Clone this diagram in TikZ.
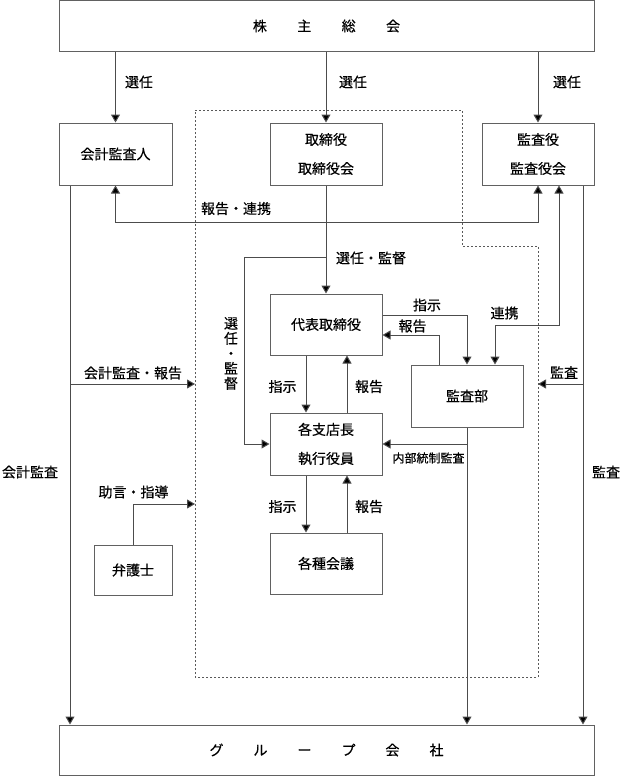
\documentclass[tikz,border=0pt]{standalone}
\usepackage{fontspec}
\setmainfont[FakeBold=0.4]{Noto Sans CJK JP}
\usetikzlibrary{arrows.meta}
\begin{document}
\begin{tikzpicture}[x=1pt,y=-1pt,
  box/.style={draw=black!62, line width=1pt, inner sep=0pt, align=center,
    font=\fontsize{14}{29}\selectfont},
  lbl/.style={inner sep=0pt, font=\fontsize{14}{15}\selectfont},
  small/.style={inner sep=0pt, font=\fontsize{12}{14}\selectfont},
  ln/.style={draw=black!70, line width=1pt},
  arr/.style={ln, -{Triangle[width=9pt,length=8pt,fill=black]}},
  both/.style={ln, {Triangle[width=9pt,length=8pt,fill=black]}-{Triangle[width=9pt,length=8pt,fill=black]}},
  dashbox/.style={draw=black!65, line width=1pt, dash pattern=on 2pt off 2pt}
]
\useasboundingbox (0,0) rectangle (620,776);

% boxes
\node[box, minimum width=535pt, minimum height=51pt] (top) at (326.5,26)
  {株\hspace{30.4pt}主\hspace{30.4pt}総\hspace{30.4pt}会};
\node[box, minimum width=113pt, minimum height=62pt] (kaikei) at (115.5,154) {会計監査人};
\node[box, minimum width=112pt, minimum height=62pt] (tori) at (326,154) {取締役\\取締役会};
\node[box, minimum width=112pt, minimum height=62pt] (kansayaku) at (538,154) {監査役\\監査役会};
\node[box, minimum width=112pt, minimum height=61pt] (daihyo) at (326,324.5) {代表取締役};
\node[box, minimum width=112pt, minimum height=62pt] (shiten) at (326,444) {各支店長\\執行役員};
\node[box, minimum width=112pt, minimum height=61pt] (kaigi) at (326,563.5) {各種会議};
\node[box, minimum width=112pt, minimum height=62pt] (kansabu) at (467,396) {監査部};
\node[box, minimum width=78pt, minimum height=50pt] (bengoshi) at (133,570) {弁護士};
\node[box, minimum width=535pt, minimum height=50pt] (group) at (326.5,750)
  {グ\hspace{30pt}ル\hspace{30pt}ー\hspace{30pt}プ\hspace{30pt}会\hspace{30pt}社};

% dashed area
\draw[dashbox] (195,110) -- (462,110) -- (462,246) -- (538,246) -- (538,677) -- (195,677) -- cycle;

% coordinates
\coordinate (rep) at (0,222.5);
\coordinate (renkei) at (495,325);
\coordinate (dashR) at (538,384);
\coordinate (dashL) at (195,384);
\coordinate (dashL2) at (195,504);
\coordinate (skTurn) at (244,444);
\coordinate (skY) at (0,257);

% selection arrows
\draw[arr] (kaikei.north |- top.south) -- (kaikei.north);
\draw[arr] (tori.north |- top.south) -- (tori.north);
\draw[arr] (kansayaku.north |- top.south) -- (kansayaku.north);
\node[lbl] (l1) at (139,82) {選任};
\node[lbl] (l2) at (353,82) {選任};
\node[lbl] (l3) at (567,82) {選任};

% report / cooperation
\draw[both] (kaikei.south) -- (kaikei.south |- rep) -| (kansayaku.south);
\node[lbl] (l4) at (236,208.5) {報告・連携};

% cooperation with audit dept
\draw[both] ([xshift=21pt]kansayaku.south) |- (renkei) -- (renkei |- kansabu.north);
\node[lbl] (l5) at (504.5,313) {連携};

% right audit line
\draw[arr] ([xshift=45pt]kansayaku.south) -- ([xshift=45pt]kansayaku.south |- group.north);
\draw[arr] ([xshift=45pt]kansayaku.south |- dashR) -- (dashR);
\node[lbl] (l6) at (564,372.5) {監査};
\node[lbl] (l7) at (606,472) {監査};

% left accounting audit line
\draw[arr] ([xshift=-45.5pt]kaikei.south) -- ([xshift=-45.5pt]kaikei.south |- group.north);
\draw[arr] ([xshift=-45.5pt]kaikei.south |- dashL) -- (dashL);
\node[lbl] (l8) at (133,373) {会計監査・報告};
\node[lbl] (l9) at (30,472) {会計監査};

% lawyer
\draw[arr] (bengoshi.north) |- (dashL2);
\node[lbl] (l10) at (133.5,492) {助言・指導};

% board -> representative
\draw[arr] (tori.south) -- (daihyo.north);
\draw[arr] (tori.south |- skY) -| (skTurn) -- (shiten.west);
\node[lbl] (l11) at (371,258) {選任・監督};
\node[lbl, align=center] (l12) at (231,353.5) {選\\任\\・\\監\\督};

% instructions / reports
\draw[arr] ([xshift=-20pt]daihyo.south) -- ([xshift=-20pt]shiten.north);
\draw[arr] ([xshift=21pt]shiten.north) -- ([xshift=21pt]daihyo.south);
\draw[arr] ([xshift=-20pt]shiten.south) -- ([xshift=-20pt]kaigi.north);
\draw[arr] ([xshift=21pt]kaigi.north) -- ([xshift=21pt]shiten.south);
\node[lbl] (l13) at (282.5,386.5) {指示};
\node[lbl] (l14) at (369,386.5) {報告};
\node[lbl] (l15) at (282.5,506.5) {指示};
\node[lbl] (l16) at (369,506.5) {報告};

% representative <-> audit dept
\draw[arr] (daihyo.east |- 0,315) -| (kansabu.north);
\draw[arr] ([xshift=-28pt]kansabu.north) |- (daihyo.east |- 0,335);
\node[lbl] (l17) at (427,305) {指示};
\node[lbl] (l18) at (412.5,326) {報告};

% audit dept -> group, internal control
\draw[arr] (kansabu.south) -- (kansabu.south |- group.north);
\draw[arr] (kansabu.south |- shiten.east) -- (shiten.east);
\node[small] (l19) at (428.5,458) {内部統制監査};
\end{tikzpicture}
\end{document}
